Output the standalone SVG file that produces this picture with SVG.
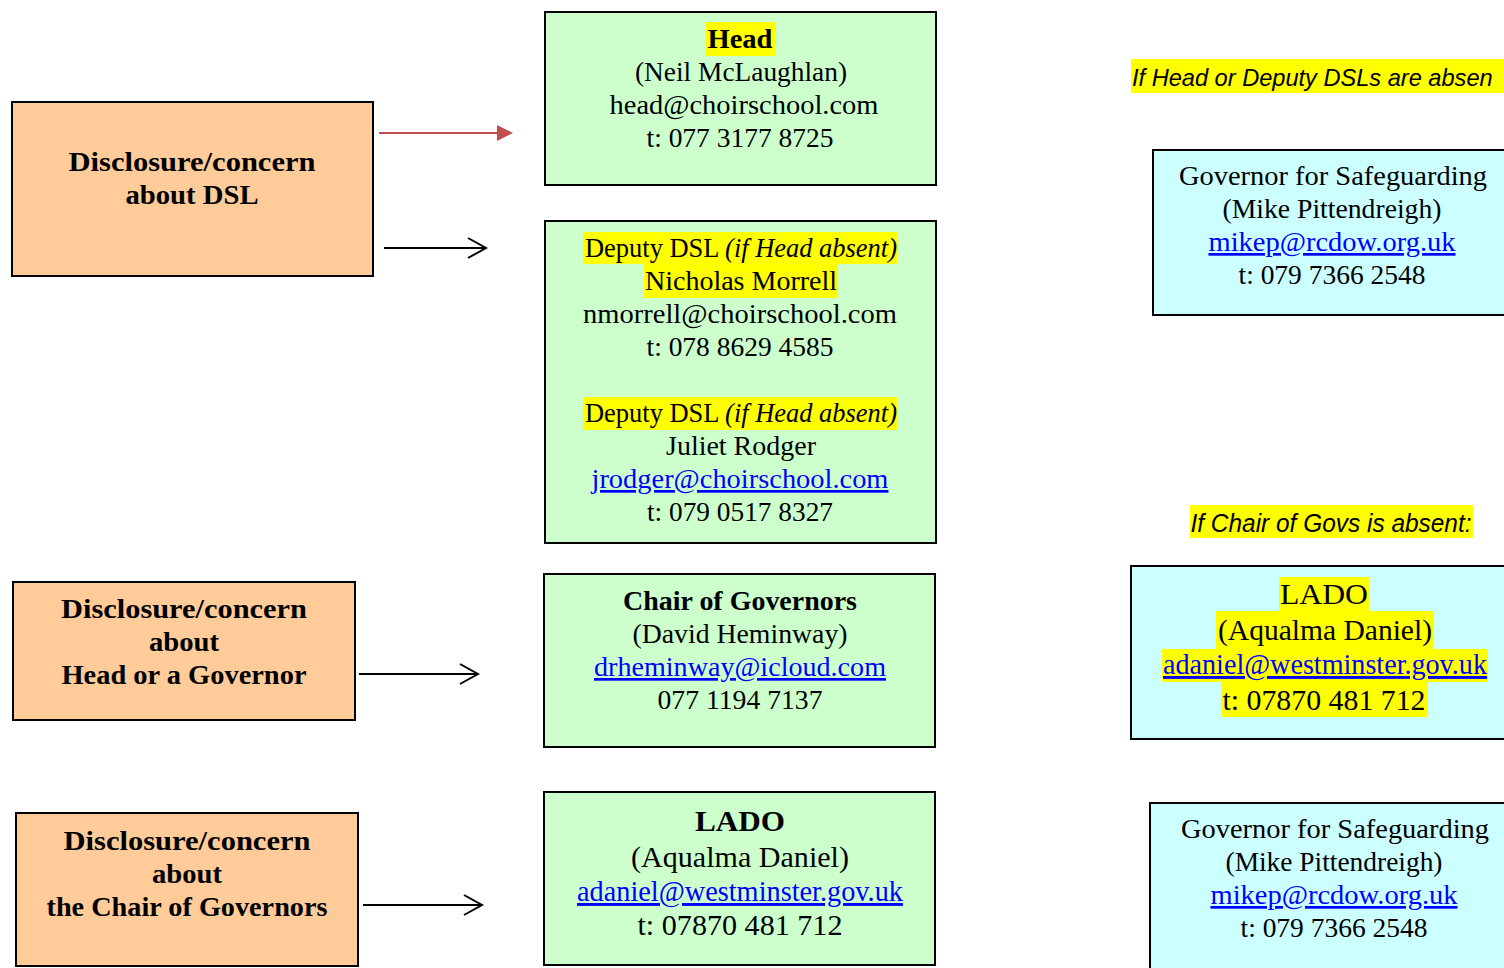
<svg xmlns="http://www.w3.org/2000/svg" width="1504" height="968" viewBox="0 0 1504 968">
<style>
.or{fill:#FFCC99;stroke:#000;stroke-width:2}
.gr{fill:#CCFFCC;stroke:#000;stroke-width:2}
.cy{fill:#CCFFFF;stroke:#000;stroke-width:2}
.hl{fill:#FFFF00}
text{font-family:"Liberation Serif","Times New Roman",serif;fill:#000;text-anchor:middle}
.b{font-weight:bold;font-size:27px}
.r{font-size:27px}
.l{font-size:29px}
.lk{fill:#0000FF;text-decoration:underline}
.it{font-family:"Liberation Sans",Arial,sans-serif;font-style:italic;font-size:25px}
.c{fill:none;stroke:#000;stroke-width:2}
</style>
<rect width="1504" height="968" fill="#fff"/>

<g id="connectors">
<line x1="379" y1="133" x2="497" y2="133" stroke="#C0504D" stroke-width="2"/>
<path d="M497,125 L513,133 L497,141 z" fill="#C0504D"/>
<path class="c" d="M384,248 H486 M468,238 L486,248 L468,258"/>
<path class="c" d="M359,674 H478 M460,664 L478,674 L460,684"/>
<path class="c" d="M363,905 H482 M464,895 L482,905 L464,915"/>
</g>

<g id="dsl-concern">
<rect class="or" x="12" y="102" width="361" height="174"/>
<text class="b" x="192" y="171" textLength="247" lengthAdjust="spacingAndGlyphs">Disclosure/concern</text>
<text class="b" x="192" y="204" textLength="133" lengthAdjust="spacingAndGlyphs">about DSL</text>
</g>

<g id="head-concern">
<rect class="or" x="13" y="582" width="342" height="138"/>
<text class="b" x="184" y="618" textLength="246" lengthAdjust="spacingAndGlyphs">Disclosure/concern</text>
<text class="b" x="184" y="651" textLength="70" lengthAdjust="spacingAndGlyphs">about</text>
<text class="b" x="184" y="684" textLength="245" lengthAdjust="spacingAndGlyphs">Head or a Governor</text>
</g>

<g id="chair-concern">
<rect class="or" x="16" y="813" width="342" height="153"/>
<text class="b" x="187" y="850" textLength="247" lengthAdjust="spacingAndGlyphs">Disclosure/concern</text>
<text class="b" x="187" y="883" textLength="70" lengthAdjust="spacingAndGlyphs">about</text>
<text class="b" x="187" y="916" textLength="281" lengthAdjust="spacingAndGlyphs">the Chair of Governors</text>
</g>

<g id="head">
<rect class="gr" x="545" y="12" width="391" height="173"/>
<rect class="hl" x="706" y="22" width="70" height="34"/>
<text class="b" x="740" y="48" textLength="65" lengthAdjust="spacingAndGlyphs">Head</text>
<text class="r" x="741" y="81" textLength="212" lengthAdjust="spacingAndGlyphs">(Neil McLaughlan)</text>
<text class="r" x="744" y="114" textLength="269" lengthAdjust="spacingAndGlyphs">head@choirschool.com</text>
<text class="r" x="740" y="147" textLength="187" lengthAdjust="spacingAndGlyphs">t: 077 3177 8725</text>
</g>

<g id="deputies">
<rect class="gr" x="545" y="221" width="391" height="322"/>
<rect class="hl" x="583" y="232" width="314" height="32"/>
<rect class="hl" x="644" y="264" width="194" height="34"/>
<rect class="hl" x="583" y="397" width="314" height="33"/>
<text class="r" x="741" y="257" textLength="312" lengthAdjust="spacingAndGlyphs">Deputy DSL <tspan font-style="italic">(if Head absent)</tspan></text>
<text class="r" x="741" y="290" textLength="192" lengthAdjust="spacingAndGlyphs">Nicholas Morrell</text>
<text class="r" x="740" y="323" textLength="314" lengthAdjust="spacingAndGlyphs">nmorrell@choirschool.com</text>
<text class="r" x="740" y="356" textLength="187" lengthAdjust="spacingAndGlyphs">t: 078 8629 4585</text>
<text class="r" x="741" y="422" textLength="312" lengthAdjust="spacingAndGlyphs">Deputy DSL <tspan font-style="italic">(if Head absent)</tspan></text>
<text class="r" x="741" y="455" textLength="150" lengthAdjust="spacingAndGlyphs">Juliet Rodger</text>
<text class="r lk" x="740" y="488" textLength="297" lengthAdjust="spacingAndGlyphs">jrodger@choirschool.com</text>
<text class="r" x="740" y="521" textLength="186" lengthAdjust="spacingAndGlyphs">t: 079 0517 8327</text>
</g>

<g id="chair">
<rect class="gr" x="544" y="574" width="391" height="173"/>
<text class="b" x="740" y="610" textLength="234" lengthAdjust="spacingAndGlyphs">Chair of Governors</text>
<text class="r" x="740" y="643" textLength="215" lengthAdjust="spacingAndGlyphs">(David Heminway)</text>
<text class="r lk" x="740" y="676" textLength="292" lengthAdjust="spacingAndGlyphs">drheminway@icloud.com</text>
<text class="r" x="740" y="709" textLength="165" lengthAdjust="spacingAndGlyphs">077 1194 7137</text>
</g>

<g id="lado">
<rect class="gr" x="544" y="792" width="391" height="173"/>
<text class="l" font-weight="bold" x="740" y="831" textLength="90" lengthAdjust="spacingAndGlyphs">LADO</text>
<text class="l" x="740" y="867" textLength="218" lengthAdjust="spacingAndGlyphs">(Aqualma Daniel)</text>
<text class="l lk" x="740" y="901" textLength="326" lengthAdjust="spacingAndGlyphs">adaniel@westminster.gov.uk</text>
<text class="l" x="740" y="935" textLength="205" lengthAdjust="spacingAndGlyphs">t: 07870 481 712</text>
</g>

<g id="absent-note">
<rect class="hl" x="1131" y="59" width="373" height="34"/>
<text class="it" x="1132" y="86" style="text-anchor:start;font-size:23.6px">If Head or Deputy DSLs are absen</text>
</g>

<g id="gov-safeguarding-1">
<rect class="cy" x="1153" y="150" width="370" height="165"/>
<text class="r" x="1333" y="185" textLength="308" lengthAdjust="spacingAndGlyphs">Governor for Safeguarding</text>
<text class="r" x="1332" y="218" textLength="219" lengthAdjust="spacingAndGlyphs">(Mike Pittendreigh)</text>
<text class="r lk" x="1332" y="251" textLength="247" lengthAdjust="spacingAndGlyphs">mikep@rcdow.org.uk</text>
<text class="r" x="1332" y="284" textLength="187" lengthAdjust="spacingAndGlyphs">t: 079 7366 2548</text>
</g>

<g id="chair-absent-note">
<rect class="hl" x="1190" y="505" width="283" height="33"/>
<text class="it" x="1331" y="532" textLength="281" lengthAdjust="spacingAndGlyphs">If Chair of Govs is absent:</text>
</g>

<g id="lado-2">
<rect class="cy" x="1131" y="566" width="390" height="173"/>
<rect class="hl" x="1279" y="577" width="91" height="34"/>
<rect class="hl" x="1216" y="611" width="218" height="38"/>
<rect class="hl" x="1162" y="649" width="326" height="33"/>
<rect class="hl" x="1221" y="682" width="207" height="35"/>
<text class="l" x="1324" y="604" textLength="88" lengthAdjust="spacingAndGlyphs">LADO</text>
<text class="l" x="1325" y="640" textLength="214" lengthAdjust="spacingAndGlyphs">(Aqualma Daniel)</text>
<text class="l lk" x="1325" y="674" textLength="324" lengthAdjust="spacingAndGlyphs">adaniel@westminster.gov.uk</text>
<text class="l" x="1324" y="710" textLength="203" lengthAdjust="spacingAndGlyphs">t: 07870 481 712</text>
</g>

<g id="gov-safeguarding-2">
<rect class="cy" x="1150" y="803" width="370" height="180"/>
<text class="r" x="1335" y="838" textLength="308" lengthAdjust="spacingAndGlyphs">Governor for Safeguarding</text>
<text class="r" x="1334" y="871" textLength="217" lengthAdjust="spacingAndGlyphs">(Mike Pittendreigh)</text>
<text class="r lk" x="1334" y="904" textLength="247" lengthAdjust="spacingAndGlyphs">mikep@rcdow.org.uk</text>
<text class="r" x="1334" y="937" textLength="187" lengthAdjust="spacingAndGlyphs">t: 079 7366 2548</text>
</g>
</svg>
